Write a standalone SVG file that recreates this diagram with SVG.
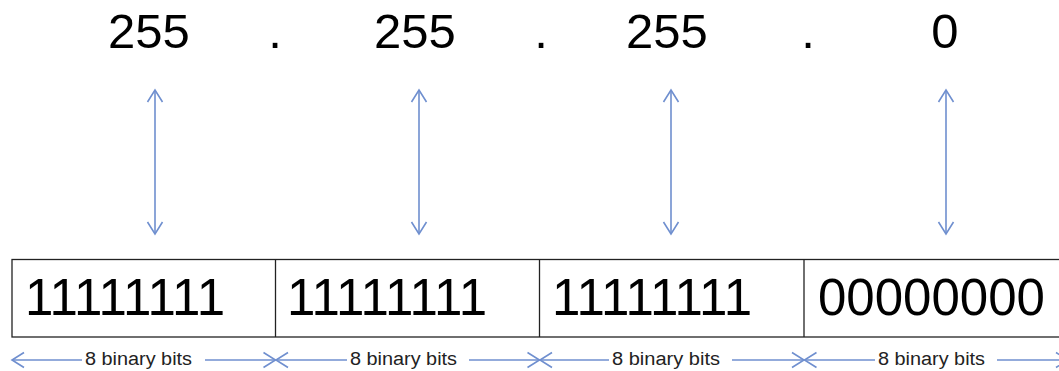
<svg xmlns="http://www.w3.org/2000/svg" width="1059" height="371" viewBox="0 0 1059 371">
<style>
  .num { font-family: "Liberation Sans", Arial, sans-serif; font-size: 49px; fill: #000; text-anchor: middle; }
  .bin { font-family: "Liberation Sans", Arial, sans-serif; font-size: 51px; fill: #000; }
  .lbl { font-family: "Liberation Sans", Arial, sans-serif; font-size: 18px; fill: #222; }
  .arr { stroke: #6f8fcf; stroke-width: 1.6; fill: none; }
  .box { stroke: #222; stroke-width: 1.3; fill: #fff; }
</style>
<defs>
  <marker id="ah" markerUnits="userSpaceOnUse" markerWidth="16" markerHeight="18" viewBox="0 0 16 18" refX="13" refY="9" orient="auto-start-reverse">
    <path d="M1,1.5 L13,9 L1,16.5" fill="none" stroke="#6f8fcf" stroke-width="1.6"/>
  </marker>
</defs>
<g id="octet-values">
  <text class="num" x="149" y="48">255</text>
  <text class="num" x="275" y="48">.</text>
  <text class="num" x="415" y="48">255</text>
  <text class="num" x="541" y="48">.</text>
  <text class="num" x="667" y="48">255</text>
  <text class="num" x="808" y="48">.</text>
  <text class="num" x="945" y="48">0</text>
</g>
<g id="binary-box">
  <rect class="box" x="12" y="259.5" width="1070" height="77.5"/>
  <line class="box" x1="275.5" y1="259.5" x2="275.5" y2="337"/>
  <line class="box" x1="539.5" y1="259.5" x2="539.5" y2="337"/>
  <line class="box" x1="804" y1="259.5" x2="804" y2="337"/>
  <text class="bin" x="25" y="315" textLength="200" lengthAdjust="spacing">11111111</text>
  <text class="bin" x="287" y="315" textLength="200" lengthAdjust="spacing">11111111</text>
  <text class="bin" x="552" y="315" textLength="200" lengthAdjust="spacing">11111111</text>
  <text class="bin" x="818" y="315" textLength="227" lengthAdjust="spacingAndGlyphs">00000000</text>
</g>
<g id="connectors">
  <line class="arr" x1="155" y1="90" x2="155" y2="234" marker-start="url(#ah)" marker-end="url(#ah)"/>
  <line class="arr" x1="419" y1="90" x2="419" y2="234" marker-start="url(#ah)" marker-end="url(#ah)"/>
  <line class="arr" x1="671" y1="90" x2="671" y2="234" marker-start="url(#ah)" marker-end="url(#ah)"/>
  <line class="arr" x1="946" y1="90" x2="946" y2="234" marker-start="url(#ah)" marker-end="url(#ah)"/>

  <line class="arr" x1="12" y1="360" x2="82" y2="360" marker-start="url(#ah)"/>
  <line class="arr" x1="205" y1="360" x2="275.5" y2="360" marker-end="url(#ah)"/>
  <line class="arr" x1="276" y1="360" x2="347" y2="360" marker-start="url(#ah)"/>
  <line class="arr" x1="469" y1="360" x2="539.5" y2="360" marker-end="url(#ah)"/>
  <line class="arr" x1="540" y1="360" x2="609" y2="360" marker-start="url(#ah)"/>
  <line class="arr" x1="732" y1="360" x2="804" y2="360" marker-end="url(#ah)"/>
  <line class="arr" x1="804.5" y1="360" x2="875" y2="360" marker-start="url(#ah)"/>
  <line class="arr" x1="997" y1="360" x2="1068" y2="360" marker-end="url(#ah)"/>
</g>
<g id="bit-labels">
  <text class="lbl" x="85" y="365" textLength="107" lengthAdjust="spacingAndGlyphs">8 binary bits</text>
  <text class="lbl" x="350" y="365" textLength="107" lengthAdjust="spacingAndGlyphs">8 binary bits</text>
  <text class="lbl" x="612" y="365" textLength="108" lengthAdjust="spacingAndGlyphs">8 binary bits</text>
  <text class="lbl" x="878" y="365" textLength="107" lengthAdjust="spacingAndGlyphs">8 binary bits</text>
</g>
</svg>
